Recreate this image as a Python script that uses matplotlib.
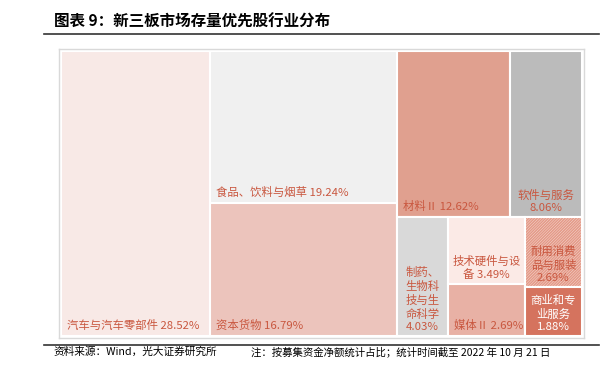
import matplotlib
matplotlib.use('Agg')
import matplotlib.pyplot as plt
from matplotlib.patches import Rectangle
from matplotlib.lines import Line2D
from matplotlib import transforms

plt.rcParams['font.family'] = ['Noto Sans CJK SC', 'DejaVu Sans']
plt.rcParams['hatch.linewidth'] = 1.2

# industry shares (%)
names = ['汽车与汽车零部件', '食品、饮料与烟草', '资本货物', '材料Ⅱ', '软件与服务',
         '制药、\n生物科\n技与生\n命科学', '技术硬件与设\n备', '媒体Ⅱ', '耐用消费\n品与服装', '商业和专\n业服务']
values = [28.52, 19.24, 16.79, 12.62, 8.06, 4.03, 3.49, 2.69, 2.69, 1.88]
seps = [' ', ' ', ' ', ' ', '\n', '\n', ' ', ' ', '\n', '\n']
colors = ['#F8E9E6', '#F0F0F0', '#ECC4BC', '#E0A08F', '#BBBBBB',
          '#D9D9D9', '#FBEAE6', '#E8B1A5', '#FFFFFF', '#D5735E']
text_colors = ['#C9573F'] * 9 + ['#FFFFFF']
hatched = [False] * 8 + [True, False]

# nesting of the tiles: columns -> rows -> columns ...
tree = [[0], [1, 2], [[3, 4], [5, [6, 7], [8, 9]]]]


def total(node):
    if isinstance(node, list):
        return sum(total(n) for n in node)
    return values[node]


def layout(node, x, y, w, h, horizontal, out):
    if not isinstance(node, list):
        out[node] = (x, y, w, h)
        return
    s = total(node)
    pos = 0.0
    for child in node:
        frac = total(child) / s
        if horizontal:
            layout(child, x + pos * w, y, w * frac, h, not horizontal, out)
        else:
            layout(child, x, y + pos * h, w, h * frac, not horizontal, out)
        pos += frac


rects = {}
layout(tree, 0, 0, 100, 100, True, rects)

fig = plt.figure(figsize=(6.16, 3.73), dpi=100)
W, H = 616, 373
ax = fig.add_axes([59 / W, (H - 338) / H, 525 / W, 289 / H])
ax.set_xlim(-0.384, 100.384)
ax.set_ylim(100.7, -0.7)
ax.set_xticks([])
ax.set_yticks([])
for sp in ax.spines.values():
    sp.set_color('#D9D9D9')
    sp.set_linewidth(1.0)

for i in range(len(names)):
    x, y, w, h = rects[i]
    if hatched[i]:
        ax.add_patch(Rectangle((x, y), w, h, facecolor='white', edgecolor='#E49A88',
                               hatch='/' * 12, linewidth=0))
        ax.add_patch(Rectangle((x, y), w, h, facecolor='none', edgecolor='white', linewidth=1.5))
    else:
        ax.add_patch(Rectangle((x, y), w, h, facecolor=colors[i], edgecolor='white', linewidth=1.5))

    label = names[i] + seps[i] + '{:.2f}%'.format(values[i])
    if '\n' in label:
        tr = transforms.offset_copy(ax.transData, fig, x=0, y=4, units='dots')
        ax.text(x + w / 2, y + h, label, transform=tr, ha='center', va='bottom',
                multialignment='center', fontsize=8.2, color=text_colors[i], linespacing=1.3)
    else:
        tr = transforms.offset_copy(ax.transData, fig, x=6, y=5, units='dots')
        ax.text(x, y + h, label, transform=tr, ha='left', va='bottom',
                fontsize=8.2, color=text_colors[i])

fig.text(54 / W, 1 - 22 / H, '图表 9：新三板市场存量优先股行业分布', fontsize=11.2,
         fontweight='bold', ha='left', va='center')
fig.add_artist(Line2D([44 / W, 599 / W], [1 - 33.5 / H, 1 - 33.5 / H], color='#333333', lw=1.2))
fig.add_artist(Line2D([44 / W, 599 / W], [1 - 344.5 / H, 1 - 344.5 / H], color='#333333', lw=1.2))
fig.text(53 / W, 1 - 352 / H, '资料来源：Wind，光大证券研究所', fontsize=7.7, ha='left', va='center')
fig.text(251 / W, 1 - 352 / H, '注：按募集资金净额统计占比；统计时间截至 2022 年 10 月 21 日',
         fontsize=7.5, ha='left', va='center')

fig.savefig('out.png', dpi=100)
